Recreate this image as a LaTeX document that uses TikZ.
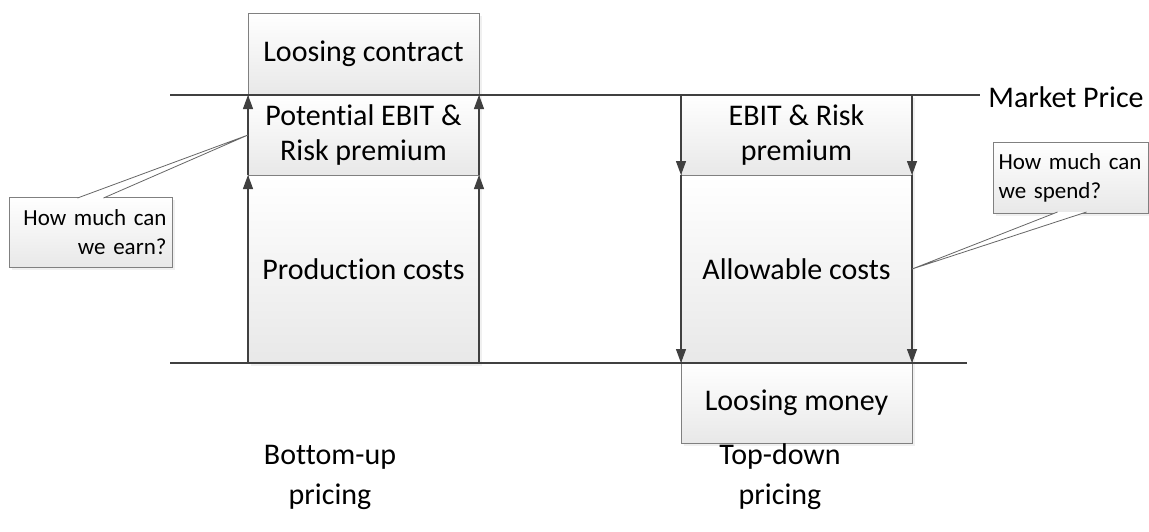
\documentclass[tikz,border=0pt]{standalone}
\usepackage{fontspec}
\setmainfont{Carlito}[RawFeature={-liga}]
\usetikzlibrary{positioning,arrows.meta,shadows,calc}
\tikzset{
  box/.style={draw=black!50, outer sep=0pt, inner sep=0pt, minimum width=115.5pt,
    top color=white, bottom color=black!9, align=center,
    font=\fontsize{15}{17.5}\selectfont,
    drop shadow={shadow xshift=1.5pt, shadow yshift=-1.5pt, opacity=0.12}},
  note/.style={draw=black!50, outer sep=0pt, inner sep=0pt, top color=white, bottom color=black!9,
    font=\fontsize{11.5}{14.5}\selectfont,
    drop shadow={shadow xshift=1.5pt, shadow yshift=-1.5pt, opacity=0.12}},
  level/.style={draw=black!75, line width=0.6pt},
  edge/.style={draw=black!75, line width=0.6pt, -{Triangle[length=7pt,width=5pt]}},
  pointer/.style={draw=black!60, fill=white, line width=0.4pt}
}
\begin{document}
\begin{tikzpicture}[x=0.5pt,y=-0.5pt]
\useasboundingbox (0,0) rectangle (1149,531);
\node[box, minimum height=41pt] (lc) at (363.5,54) {Loosing contract};
\node[box, minimum height=40pt, below=0pt of lc] (pe) {Potential EBIT \&\\Risk premium};
\node[box, minimum height=94pt, below=0pt of pe] (pc) {Production costs};
\node[box, minimum height=40pt] (er) at (796.5,135) {EBIT \& Risk\\premium};
\node[box, minimum height=94pt, below=0pt of er] (ac) {Allowable costs};
\node[box, minimum height=40pt, below=0pt of ac] (lm) {Loosing money};
\coordinate (top) at (170,95);
\coordinate (bot) at (170,363);
\coordinate (botend) at (967,363);
\node[anchor=west, inner sep=4pt, font=\fontsize{15}{17.5}\selectfont] (mp) at (980,97) {Market Price};
\draw[level] (top) -- (top -| mp.west);
\draw[level] (bot) -- (botend);
\draw[edge] (pc.south west) -- (pc.north west);
\draw[edge] (pc.south east) -- (pc.north east);
\draw[edge] (pe.south west) -- (pe.north west);
\draw[edge] (pe.south east) -- (pe.north east);
\draw[edge] (er.north west) -- (er.south west);
\draw[edge] (er.north east) -- (er.south east);
\draw[edge] (ac.north west) -- (ac.south west);
\draw[edge] (ac.north east) -- (ac.south east);
\node[note, minimum width=81.5pt, minimum height=35pt, align=right, text width=76pt] (earn) at (90.5,232) {How much can\\we earn?};
\node[note, minimum width=77.5pt, minimum height=35.5pt, align=left, text width=72pt] (spend) at (1070.5,177.5) {How much can\\we spend?};
\filldraw[pointer] ($(earn.north)+(-13,1)$) -- (pe.west) -- ($(earn.north)+(13,1)$);
\filldraw[pointer] ($(spend.south)+(-13,-1)$) -- (ac.east) -- ($(spend.south)+(16,-1)$);
\node[align=center, font=\fontsize{15}{20}\selectfont] (bu) at (330,477) {Bottom-up\\pricing};
\node[align=center, font=\fontsize{15}{20}\selectfont] (td) at (780,477) {Top-down\\pricing};
\end{tikzpicture}
\end{document}
